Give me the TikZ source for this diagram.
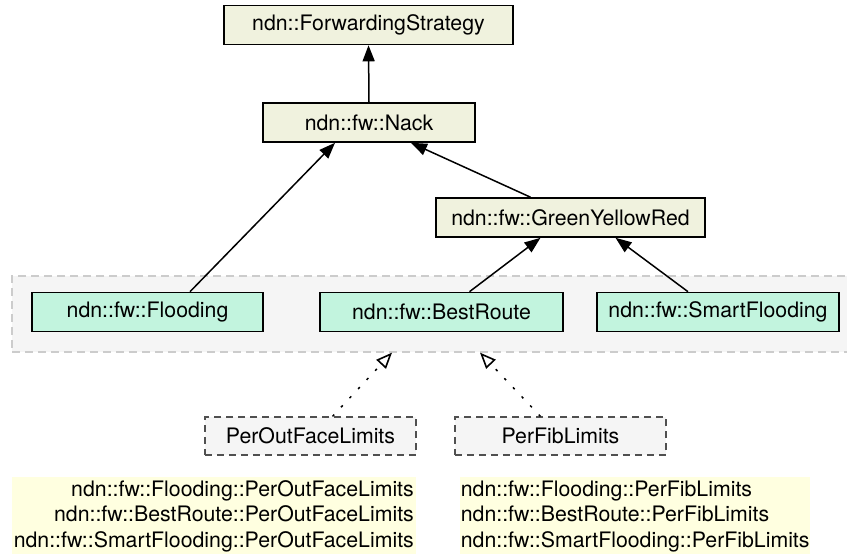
\documentclass[tikz,border=0pt]{standalone}
\usepackage{fontspec}
\setmainfont{TeX Gyre Heros}
\usetikzlibrary{arrows.meta}
\definecolor{basefill}{RGB}{240,242,222}
\definecolor{subfill}{RGB}{194,244,222}
\definecolor{grpfill}{RGB}{245,245,245}
\definecolor{grpline}{RGB}{204,204,204}
\definecolor{notefill}{RGB}{255,255,224}
\definecolor{tmplline}{RGB}{80,80,80}
\tikzset{
  cls/.style={draw=black, line width=1.6pt, inner sep=0pt, minimum height=39},
  basebox/.style={cls, fill=basefill},
  subbox/.style={cls, fill=subfill},
  grpbox/.style={draw=grpline, dash pattern=on 8pt off 5pt, line width=1.3pt, fill=grpfill, inner sep=0pt},
  tmplbox/.style={draw=tmplline, dash pattern=on 7pt off 5pt, line width=1.2pt, fill=grpfill, inner sep=0pt, minimum height=38},
  notebox/.style={fill=notefill, inner sep=0pt},
  inh/.style={line width=1.5pt, -{Triangle[length=16pt,width=12pt]}},
  impl/.style={line width=1.5pt, dash pattern=on 2.5pt off 10pt, -{Triangle[open,length=16pt,width=13pt,line width=1.6pt]}},
}
\begin{document}
\begin{tikzpicture}[x=1pt,y=-1pt,font=\fontsize{21.3}{25.5}\selectfont]
\useasboundingbox (0,0) rectangle (847,554);
\node[grpbox, minimum width=840, minimum height=76] (grp) at (432,314) {};
\node[basebox, minimum width=289] (fs) at (368.5,25) {ndn::ForwardingStrategy};
\node[basebox, minimum width=212] (nack) at (369,122.5) {ndn::fw::Nack};
\node[basebox, minimum width=269] (gyr) at (570.5,217.5) {ndn::fw::GreenYellowRed};
\node[subbox, minimum width=231] (flood) at (147.5,312) {ndn::fw::Flooding};
\node[subbox, minimum width=243] (best) at (441.5,312) {ndn::fw::BestRoute};
\node[subbox, minimum width=242] (smart) at (718,312) {ndn::fw::SmartFlooding};
\node[tmplbox, minimum width=211] (pof) at (310.5,436) {PerOutFaceLimits};
\node[tmplbox, minimum width=211] (pfib) at (560.5,436) {PerFibLimits};
\node[notebox, minimum width=404, minimum height=78, align=right, anchor=north east] (n1) at (416,477)
  {ndn::fw::Flooding::PerOutFaceLimits\\ndn::fw::BestRoute::PerOutFaceLimits\\ndn::fw::SmartFlooding::PerOutFaceLimits};
\node[notebox, minimum width=350, minimum height=78, align=left, anchor=north west] (n2) at (460,477)
  {ndn::fw::Flooding::PerFibLimits\\ndn::fw::BestRoute::PerFibLimits\\ndn::fw::SmartFlooding::PerFibLimits};
\draw[inh] (nack.north) -- (fs.south);
\draw[inh] ([xshift=42.5]flood.north) -- ([xshift=-34]nack.south);
\draw[inh] ([xshift=-40]gyr.north) -- ([xshift=42]nack.south);
\draw[inh] ([xshift=28]best.north) -- ([xshift=-30]gyr.south);
\draw[inh] ([xshift=-30]smart.north) -- ([xshift=45]gyr.south);
\draw[impl] ([xshift=22]pof.north) -- ([xshift=-40]grp.south);
\draw[impl] ([xshift=-20]pfib.north) -- ([xshift=48]grp.south);
\end{tikzpicture}
\end{document}
